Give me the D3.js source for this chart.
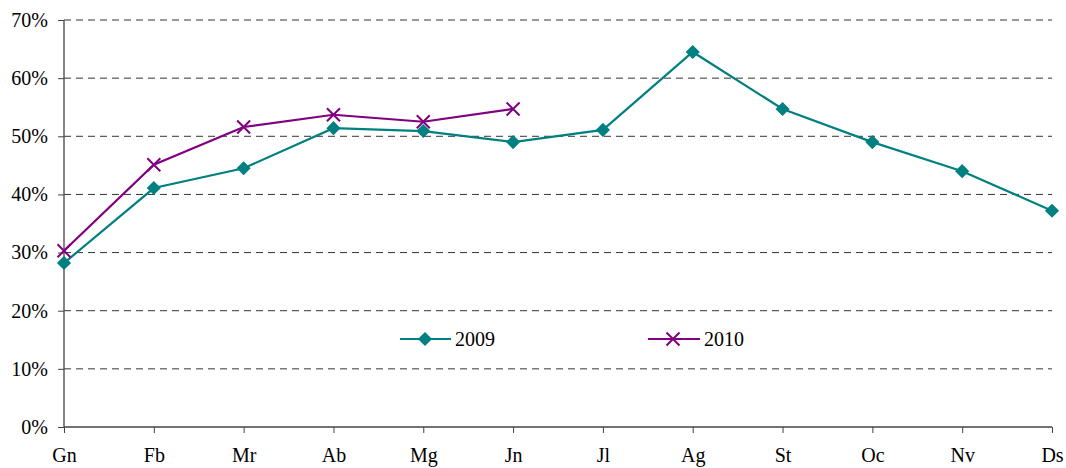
<!DOCTYPE html>
<html>
<head>
<meta charset="utf-8">
<script src="https://cdn.jsdelivr.net/npm/d3@7"></script>
<style>
  body { margin: 0; background: #fff; }
</style>
</head>
<body>
<svg id="chart"></svg>
<script>
const months = ["Gn", "Fb", "Mr", "Ab", "Mg", "Jn", "Jl", "Ag", "St", "Oc", "Nv", "Ds"];
const values2009 = [28.2, 41.1, 44.5, 51.4, 50.9, 49.0, 51.1, 64.5, 54.7, 49.0, 44.0, 37.2];
const values2010 = [30.3, 45.1, 51.6, 53.7, 52.5, 54.7];
const yTicks = [0, 10, 20, 30, 40, 50, 60, 70];

const width = 1066, height = 468;
const plotLeft = 64, plotRight = 1052, plotTop = 20, plotBottom = 427;
const serif = "'Liberation Serif', 'Times New Roman', Times, 'DejaVu Serif', serif";

const svg = d3.select("#chart").attr("width", width).attr("height", height);

const x = d3.scalePoint().domain(months).range([plotLeft, plotRight]);
const y = d3.scaleLinear().domain([0, 70]).range([plotBottom, plotTop]);

// grid
svg.append("g")
  .selectAll("line")
  .data(yTicks.filter(d => d > 0))
  .enter()
  .append("line")
    .attr("x1", plotLeft).attr("x2", plotRight)
    .attr("y1", d => y(d)).attr("y2", d => y(d))
    .attr("stroke", "#333")
    .attr("stroke-dasharray", "7,5")
    .attr("stroke-width", 1);

// axes
const yAxis = svg.append("g")
  .attr("transform", `translate(${plotLeft},0)`)
  .call(d3.axisLeft(y).tickValues(yTicks).tickFormat(d => d + "%").tickSize(6).tickPadding(10));

const xAxis = svg.append("g")
  .attr("transform", `translate(0,${plotBottom})`)
  .call(d3.axisBottom(x).tickSize(6).tickPadding(15));

[yAxis, xAxis].forEach(g => {
  g.attr("font-family", null).attr("font-size", null);
  g.select(".domain").attr("stroke", "#444").attr("stroke-width", 1.3);
  g.selectAll(".tick line").attr("stroke", "#444");
  g.selectAll("text")
    .style("font-family", serif)
    .style("font-size", "20px")
    .attr("fill", "#000");
});
xAxis.select(".domain").attr("d", `M${plotLeft},0H${plotRight}`);
yAxis.select(".domain").attr("d", `M0,${plotTop}V${plotBottom}`);

const teal = "#008080", purple = "#800080";

const line = d3.line()
  .x((d, i) => x(months[i]))
  .y(d => y(d));

svg.append("path")
  .datum(values2009)
  .attr("d", line)
  .attr("fill", "none")
  .attr("stroke", teal)
  .attr("stroke-width", 2.2);

svg.append("path")
  .datum(values2010)
  .attr("d", line)
  .attr("fill", "none")
  .attr("stroke", purple)
  .attr("stroke-width", 2.2);

const diamond = d3.symbol().type(d3.symbolSquare).size(100);

svg.append("g")
  .selectAll("path")
  .data(values2009)
  .enter()
  .append("path")
    .attr("d", diamond)
    .attr("transform", (d, i) => `translate(${x(months[i])},${y(d)}) rotate(45)`)
    .attr("fill", teal);

const crossPath = "M-6.5,-6.5L6.5,6.5M-6.5,6.5L6.5,-6.5";

svg.append("g")
  .selectAll("path")
  .data(values2010)
  .enter()
  .append("path")
    .attr("d", crossPath)
    .attr("transform", (d, i) => `translate(${x(months[i])},${y(d)})`)
    .attr("stroke", purple)
    .attr("stroke-width", 2)
    .attr("fill", "none");

// legend
const legendY = 339;
const leg = svg.append("g");
leg.append("line").attr("x1", 400).attr("x2", 451).attr("y1", legendY).attr("y2", legendY)
  .attr("stroke", teal).attr("stroke-width", 2.2);
leg.append("path").attr("d", diamond).attr("transform", `translate(425,${legendY}) rotate(45)`).attr("fill", teal);
leg.append("text").attr("x", 455).attr("y", legendY).attr("dy", "0.35em").text("2009");

leg.append("line").attr("x1", 648).attr("x2", 700).attr("y1", legendY).attr("y2", legendY)
  .attr("stroke", purple).attr("stroke-width", 2.2);
leg.append("path").attr("d", crossPath).attr("transform", `translate(673,${legendY})`)
  .attr("stroke", purple).attr("stroke-width", 2).attr("fill", "none");
leg.append("text").attr("x", 704).attr("y", legendY).attr("dy", "0.35em").text("2010");

leg.selectAll("text").style("font-family", serif).style("font-size", "20px").attr("fill", "#000");
</script>
</body>
</html>
